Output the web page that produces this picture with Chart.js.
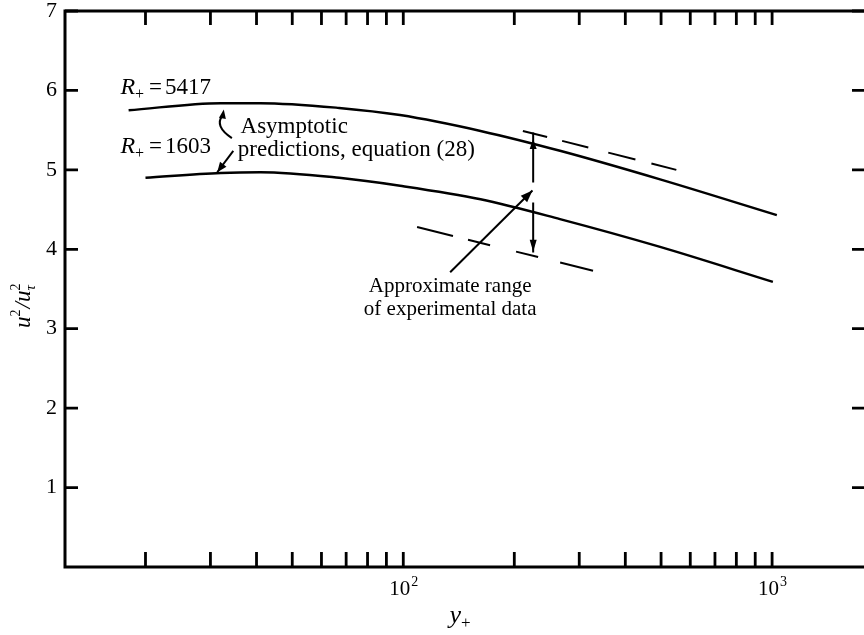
<!DOCTYPE html>
<html>
<head>
<meta charset="utf-8">
<script src="https://cdn.jsdelivr.net/npm/chart.js@4"></script>
<style>
    body { margin: 0; background: #fff; }
    canvas { display: block; }
</style>
</head>
<body>
<canvas id="chart" width="864" height="635"></canvas>
<script>
/* ===== DATA ===== */

// R+ = 5417 asymptotic prediction
const upperYPlus = [18, 32, 41, 67, 98, 162, 266, 497, 1030];
const upperValues = [5.75, 5.84, 5.84, 5.78, 5.69, 5.49, 5.24, 4.88, 4.43];

// R+ = 1603 asymptotic prediction
const lowerYPlus = [20, 32, 41, 67, 98, 162, 266, 497, 1005];
const lowerValues = [4.90, 4.96, 4.97, 4.90, 4.80, 4.63, 4.38, 4.03, 3.59];

// dashed bounds of the experimental data
const upperBoundYPlus = [211, 550];
const upperBoundValues = [5.49, 5.00];
const lowerBoundYPlus = [109, 327];
const lowerBoundValues = [4.28, 3.73];

// vertical range bar (broken where the pointer arrow ends)
const rangeYPlus = [225, 225, 225, 225, 225];
const rangeValues = [5.47, 4.84, null, 4.59, 3.96];

// axis ticks
const xMinorTicks = [20, 30, 40, 50, 60, 70, 80, 90, 100, 200, 300, 400, 500, 600, 700, 800, 900, 1000];
const xLabelTicks = [100, 1000];
const xLabelExps = ['2', '3'];
const yTicks = [1, 2, 3, 4, 5, 6, 7];

/* ===== HELPERS ===== */

function toPoints(xs, ys) {
    return xs.map((x, i) => ({ x: x, y: ys[i] }));
}

const SERIF = '"Liberation Serif", "DejaVu Serif", serif';

function arrowHead(ctx, x, y, angle, len, half) {
    ctx.save();
    ctx.translate(x, y);
    ctx.rotate(angle);
    ctx.beginPath();
    ctx.moveTo(0, 0);
    ctx.lineTo(-len, -half);
    ctx.lineTo(-len, half);
    ctx.closePath();
    ctx.fill();
    ctx.restore();
}

// R_+ = value label, drawn from its left edge on a baseline
function drawRLabel(ctx, x, y, value) {
    ctx.textAlign = 'left';
    ctx.textBaseline = 'alphabetic';
    ctx.font = 'italic 24px ' + SERIF;
    ctx.fillText('R', x, y);
    let cx = x + ctx.measureText('R').width;
    ctx.font = '16px ' + SERIF;
    ctx.fillText('+', cx, y + 5);
    cx += ctx.measureText('+').width + 5;
    ctx.font = '23px ' + SERIF;
    ctx.fillText('=', cx, y);
    cx += ctx.measureText('=').width + 3;
    ctx.fillText(value, cx, y);
}

/* ===== PLUGIN: frame, ticks, labels, annotations ===== */

const frameAndNotes = {
    id: 'frameAndNotes',
    afterDraw(chart) {
        const ctx = chart.ctx;
        const { left, right, top, bottom } = chart.chartArea;
        const px = v => chart.scales.x.getPixelForValue(v);
        const py = v => chart.scales.y.getPixelForValue(v);

        ctx.save();
        ctx.strokeStyle = '#000';
        ctx.fillStyle = '#000';

        // frame
        ctx.lineWidth = 3;
        ctx.beginPath();
        ctx.moveTo(left, top);
        ctx.lineTo(right, top);
        ctx.moveTo(left, top - 1.5);
        ctx.lineTo(left, bottom + 1.5);
        ctx.moveTo(left, bottom);
        ctx.lineTo(right, bottom);
        ctx.stroke();

        // inward ticks on x (bottom and top)
        ctx.lineWidth = 2.8;
        ctx.beginPath();
        xMinorTicks.forEach(v => {
            const x = px(v);
            ctx.moveTo(x, bottom);
            ctx.lineTo(x, bottom - 15);
            ctx.moveTo(x, top);
            ctx.lineTo(x, top + 14);
        });
        // inward ticks on y (left and right)
        yTicks.forEach(v => {
            const y = py(v);
            ctx.moveTo(left, y);
            ctx.lineTo(left + 13, y);
            ctx.moveTo(right, y);
            ctx.lineTo(right - 12, y);
        });
        ctx.stroke();

        // y tick labels
        ctx.font = '22px ' + SERIF;
        ctx.textAlign = 'right';
        ctx.textBaseline = 'middle';
        yTicks.forEach(v => ctx.fillText(String(v), left - 8, py(v)));

        // x decade labels 10^n
        xLabelTicks.forEach((v, i) => {
            const x = px(v);
            ctx.font = '21px ' + SERIF;
            const w1 = ctx.measureText('10').width;
            ctx.font = '14px ' + SERIF;
            const w2 = ctx.measureText(xLabelExps[i]).width;
            const x0 = x - (w1 + w2) / 2;
            ctx.textAlign = 'left';
            ctx.textBaseline = 'alphabetic';
            ctx.font = '21px ' + SERIF;
            ctx.fillText('10', x0, bottom + 28);
            ctx.font = '14px ' + SERIF;
            ctx.fillText(xLabelExps[i], x0 + w1 + 1, bottom + 19);
        });

        // x axis title y_+
        const cxTitle = (left + right) / 2;
        ctx.textAlign = 'left';
        ctx.textBaseline = 'alphabetic';
        ctx.font = 'italic 26px ' + SERIF;
        const yw = ctx.measureText('y').width;
        ctx.fillText('y', cxTitle - 15, bottom + 56);
        ctx.font = '17px ' + SERIF;
        ctx.fillText('+', cxTitle - 15 + yw, bottom + 61);

        // y axis title u^2 / u_tau^2 (rotated)
        ctx.save();
        ctx.translate(30, (top + bottom) / 2 + 12);
        ctx.rotate(-Math.PI / 2);
        ctx.textAlign = 'left';
        ctx.textBaseline = 'alphabetic';
        let tx = -27;
        ctx.font = 'italic 23px ' + SERIF;
        ctx.fillText('u', tx, 0);
        tx += ctx.measureText('u').width;
        ctx.font = '14px ' + SERIF;
        ctx.fillText('2', tx, -10);
        tx += ctx.measureText('2').width + 1;
        ctx.font = 'italic 23px ' + SERIF;
        ctx.fillText('/', tx, 0);
        tx += ctx.measureText('/').width;
        ctx.fillText('u', tx, 0);
        tx += ctx.measureText('u').width;
        ctx.font = '14px ' + SERIF;
        ctx.fillText('2', tx, -10);
        ctx.font = 'italic 15px ' + SERIF;
        ctx.fillText('\u03c4', tx, 5);
        ctx.restore();

        // curve labels
        drawRLabel(ctx, px(17.1), py(5.95), '5417');
        drawRLabel(ctx, px(17.1), py(5.21), '1603');

        ctx.font = '23px ' + SERIF;
        ctx.textAlign = 'left';
        ctx.fillText('Asymptotic', px(36.2), py(5.46));
        ctx.fillText('predictions, equation (28)', px(35.6), py(5.17));

        ctx.textAlign = 'center';
        ctx.font = '21px ' + SERIF;
        ctx.fillText('Approximate range', px(134), py(3.46));
        ctx.fillText('of experimental data', px(134), py(3.17));

        // curly arrow to the R+ = 5417 curve
        ctx.lineWidth = 2;
        ctx.beginPath();
        let ax = px(34.3), ay = py(5.40);
        let bx = px(32.4), by = py(5.76);
        ctx.moveTo(ax, ay);
        ctx.quadraticCurveTo(bx - 9, (ay + by) / 2 + 2, bx, by + 6);
        ctx.stroke();
        arrowHead(ctx, bx + 1, by, -Math.PI / 2 + 0.15, 9, 3.5);

        // arrow to the R+ = 1603 curve
        ax = px(34.6); ay = py(5.24);
        bx = px(31.3); by = py(4.97);
        ctx.beginPath();
        ctx.moveTo(ax, ay);
        ctx.lineTo(bx, by);
        ctx.stroke();
        arrowHead(ctx, bx, by, Math.atan2(by - ay, bx - ax), 10, 4);

        // pointer from the experimental data label
        ax = px(134); ay = py(3.71);
        bx = px(224); by = py(4.74);
        ctx.beginPath();
        ctx.moveTo(ax, ay);
        ctx.lineTo(bx, by);
        ctx.stroke();
        arrowHead(ctx, bx, by, Math.atan2(by - ay, bx - ax), 12, 4.5);

        // arrowheads on the range bar
        arrowHead(ctx, px(225), py(5.39), -Math.PI / 2, 10, 3.5);
        arrowHead(ctx, px(225), py(3.97), Math.PI / 2, 12, 3.5);

        ctx.restore();
    }
};

/* ===== CHART ===== */

const lineStyle = {
    showLine: true,
    pointRadius: 0,
    borderColor: '#000',
    backgroundColor: '#000',
    fill: false
};

new Chart(document.getElementById('chart'), {
    type: 'scatter',
    data: {
        datasets: [
            Object.assign({ label: 'R+ = 5417', data: toPoints(upperYPlus, upperValues),
                borderWidth: 2.5, cubicInterpolationMode: 'monotone' }, lineStyle),
            Object.assign({ label: 'R+ = 1603', data: toPoints(lowerYPlus, lowerValues),
                borderWidth: 2.5, cubicInterpolationMode: 'monotone' }, lineStyle),
            Object.assign({ label: 'upper bound', data: toPoints(upperBoundYPlus, upperBoundValues),
                borderWidth: 2, borderDash: [25, 15.5, 27, 20.6, 28, 16.5, 26, 100] }, lineStyle),
            Object.assign({ label: 'lower bound', data: toPoints(lowerBoundYPlus, lowerBoundValues),
                borderWidth: 2, borderDash: [37, 15.5, 22.7, 26.8, 22.7, 22.7, 34, 100] }, lineStyle),
            Object.assign({ label: 'range', data: toPoints(rangeYPlus, rangeValues),
                borderWidth: 2, spanGaps: false }, lineStyle)
        ]
    },
    options: {
        responsive: false,
        animation: false,
        layout: { padding: { left: 65, right: 0, top: 11, bottom: 68 } },
        plugins: {
            legend: { display: false },
            tooltip: { enabled: false }
        },
        scales: {
            x: { type: 'logarithmic', min: 12.1, max: 1775, display: false },
            y: { type: 'linear', min: 0, max: 7, display: false }
        }
    },
    plugins: [frameAndNotes]
});
</script>
</body>
</html>
